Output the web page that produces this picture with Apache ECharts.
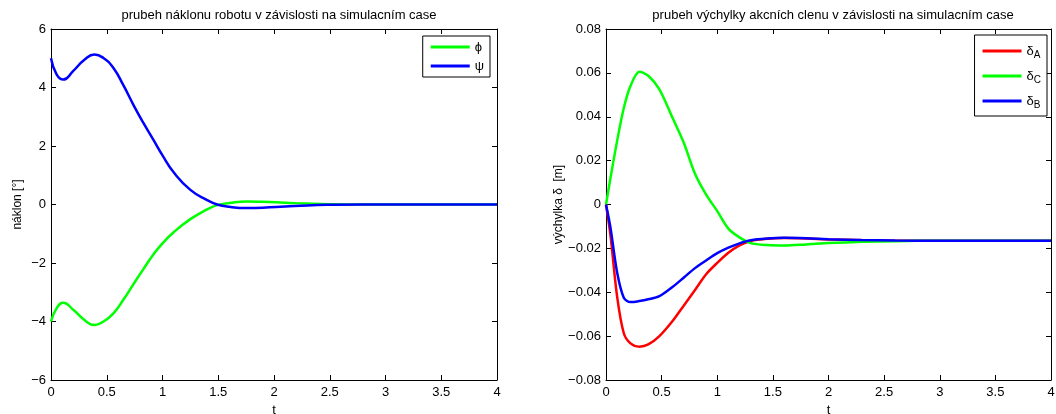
<!DOCTYPE html>
<html><head><meta charset="utf-8">
<script src="https://cdn.jsdelivr.net/npm/echarts@6/dist/echarts.min.js"></script>
<style>html,body{margin:0;padding:0;background:#fff}#c{width:1056px;height:414px}</style>
</head><body><div id="c"></div>
<script>
// Left plot: tilt of robot
const tL = [0, 0.05, 0.11, 0.2, 0.3, 0.39, 0.47, 0.56, 0.65, 0.74, 0.83, 0.92, 1.0, 1.1, 1.25, 1.4, 1.49, 1.6, 1.76, 1.9, 2.1, 2.3, 2.5, 2.8, 3.2, 3.6, 4.0];
const phi = [-4.0, -3.55, -3.36, -3.6, -3.95, -4.12, -4.0, -3.72, -3.25, -2.72, -2.2, -1.7, -1.33, -0.95, -0.5, -0.17, -0.02, 0.05, 0.1, 0.09, 0.06, 0.03, 0.01, 0, 0, 0, 0];
const psi = [5.0, 4.45, 4.27, 4.57, 4.95, 5.13, 5.01, 4.67, 4.07, 3.4, 2.78, 2.2, 1.68, 1.1, 0.5, 0.15, 0.0, -0.08, -0.12, -0.11, -0.07, -0.03, -0.01, 0, 0, 0, 0];
// Right plot: actuator displacement
const tR = [0, 0.04, 0.1, 0.16, 0.22, 0.3, 0.38, 0.48, 0.6, 0.7, 0.8, 0.9, 1.0, 1.1, 1.2, 1.3, 1.45, 1.6, 1.8, 2.0, 2.3, 2.6, 3.0, 3.5, 4.0];
const dA = [0, -0.014, -0.042, -0.0587, -0.0633, -0.0648, -0.0638, -0.060, -0.053, -0.046, -0.039, -0.0318, -0.0266, -0.022, -0.0186, -0.0166, -0.0156, -0.0153, -0.0155, -0.0159, -0.0163, -0.0165, -0.0165, -0.0165, -0.0165];
const dC = [0, 0.012, 0.029, 0.044, 0.054, 0.0605, 0.0587, 0.0525, 0.0393, 0.028, 0.014, 0.0045, -0.003, -0.011, -0.015, -0.0176, -0.0185, -0.0187, -0.0182, -0.0176, -0.0170, -0.0167, -0.0165, -0.0165, -0.0165];
const dB = [0, -0.0105, -0.031, -0.0425, -0.0445, -0.0440, -0.0432, -0.0418, -0.0375, -0.0333, -0.029, -0.0255, -0.0222, -0.0197, -0.0177, -0.0163, -0.0155, -0.0152, -0.0154, -0.0158, -0.0162, -0.0164, -0.0165, -0.0165, -0.0165];
const xTicks = {min: 0, max: 4, interval: 0.5};
const yTicksL = {min: -6, max: 6, interval: 2};
const yTicksR = {min: -0.08, max: 0.08, interval: 0.02};
const titles = ['prubeh náklonu robotu v závislosti na simulacním case', 'prubeh výchylky akcních clenu v závislosti na simulacním case'];
const yNames = ['náklon [°]', 'výchylka δ  [m]'];

const FONT = 'Liberation Sans, Arial, Helvetica, sans-serif';
const pair = (t, v) => t.map((x, i) => [x, v[i]]);
const minus = s => s.replace('-', '\u2212');
const axLine = {show: true, onZero: false, lineStyle: {color: '#000', width: 1}};
const tick = {show: true, inside: true, length: 5, lineStyle: {color: '#000'}};

function xAxes(g) {
  return [
    {type: 'value', gridIndex: g, position: 'bottom', ...xTicks, axisLine: axLine, axisTick: tick, splitLine: {show: false},
     axisLabel: {color: '#000', fontFamily: FONT, fontSize: 13, margin: 6, formatter: v => String(v)},
     name: 't', nameLocation: 'middle', nameGap: 22, nameTextStyle: {color: '#000', fontFamily: FONT, fontSize: 13}},
    {type: 'value', gridIndex: g, position: 'top', ...xTicks, axisLine: axLine, axisTick: tick, splitLine: {show: false}, axisLabel: {show: false}}
  ];
}
function yAxes(g, ticks, fmt, name, gap) {
  return [
    {type: 'value', gridIndex: g, position: 'left', ...ticks, axisLine: axLine, axisTick: tick, splitLine: {show: false},
     axisLabel: {color: '#000', fontFamily: FONT, fontSize: 13, margin: 5, formatter: fmt},
     name: name, nameLocation: 'middle', nameGap: gap, nameRotate: 90, nameTextStyle: {color: '#000', fontFamily: FONT, fontSize: 12}},
    {type: 'value', gridIndex: g, position: 'right', ...ticks, axisLine: axLine, axisTick: tick, splitLine: {show: false}, axisLabel: {show: false}}
  ];
}
const line = (name, data, color, xi, yi, smooth) => ({
  type: 'line', name, data, xAxisIndex: xi, yAxisIndex: yi, showSymbol: false, symbol: 'none',
  smooth, lineStyle: {color, width: 2.5}, itemStyle: {color}, animation: false
});

const chart = echarts.init(document.getElementById('c'), null, {renderer: 'canvas'});
chart.setOption({
  animation: false,
  backgroundColor: '#fff',
  title: [
    {text: titles[0], left: 274, top: 4, textAlign: 'center', textStyle: {fontFamily: FONT, fontSize: 13, fontWeight: 'normal', color: '#000'}},
    {text: titles[1], left: 828, top: 4, textAlign: 'center', textStyle: {fontFamily: FONT, fontSize: 13, fontWeight: 'normal', color: '#000'}}
  ],
  grid: [
    {left: 51, right: 559, top: 29, bottom: 34, outerBoundsMode: 'none', containLabel: false},
    {left: 606, right: 5, top: 29, bottom: 34, outerBoundsMode: 'none', containLabel: false}
  ],
  xAxis: [...xAxes(0), ...xAxes(1)],
  yAxis: [
    ...yAxes(0, yTicksL, v => minus(String(v)), yNames[0], 27),
    ...yAxes(1, yTicksR, v => v === 0 ? '0' : minus(v.toFixed(2)), yNames[1], 37)
  ],
  legend: [
    {data: ['ϕ', 'ψ'], orient: 'vertical', right: 566, top: 36, borderColor: '#000', borderWidth: 1, padding: [4, 6, 4, 8],
     backgroundColor: '#fff', icon: 'rect', itemWidth: 39, itemHeight: 3, itemGap: 5,
     textStyle: {fontFamily: FONT, fontSize: 13, lineHeight: 14, color: '#000'}},
    {data: ['δA', 'δC', 'δB'], orient: 'vertical', right: 9, top: 35, borderColor: '#000', borderWidth: 1, padding: [6, 6, 6, 8],
     backgroundColor: '#fff', icon: 'rect', itemWidth: 39, itemHeight: 3, itemGap: 6,
     formatter: n => '{d|δ}{s|' + n.slice(1) + '}',
     textStyle: {fontFamily: FONT, color: '#000', lineHeight: 18, rich: {d: {fontSize: 13, lineHeight: 18, fontFamily: FONT, color: '#000'}, s: {fontSize: 10, lineHeight: 18, fontFamily: FONT, color: '#000', verticalAlign: 'bottom', padding: [9, 0, 0, 0]}}}}
  ],
  series: [
    line('ϕ', pair(tL, phi), '#00ff00', 0, 0, 0.5),
    line('ψ', pair(tL, psi), '#0000ff', 0, 0, 0.5),
    line('δA', pair(tR, dA), '#ff0000', 2, 2, 0.3),
    line('δC', pair(tR, dC), '#00ff00', 2, 2, 0.3),
    line('δB', pair(tR, dB), '#0000ff', 2, 2, 0.3)
  ]
});
</script></body></html>
